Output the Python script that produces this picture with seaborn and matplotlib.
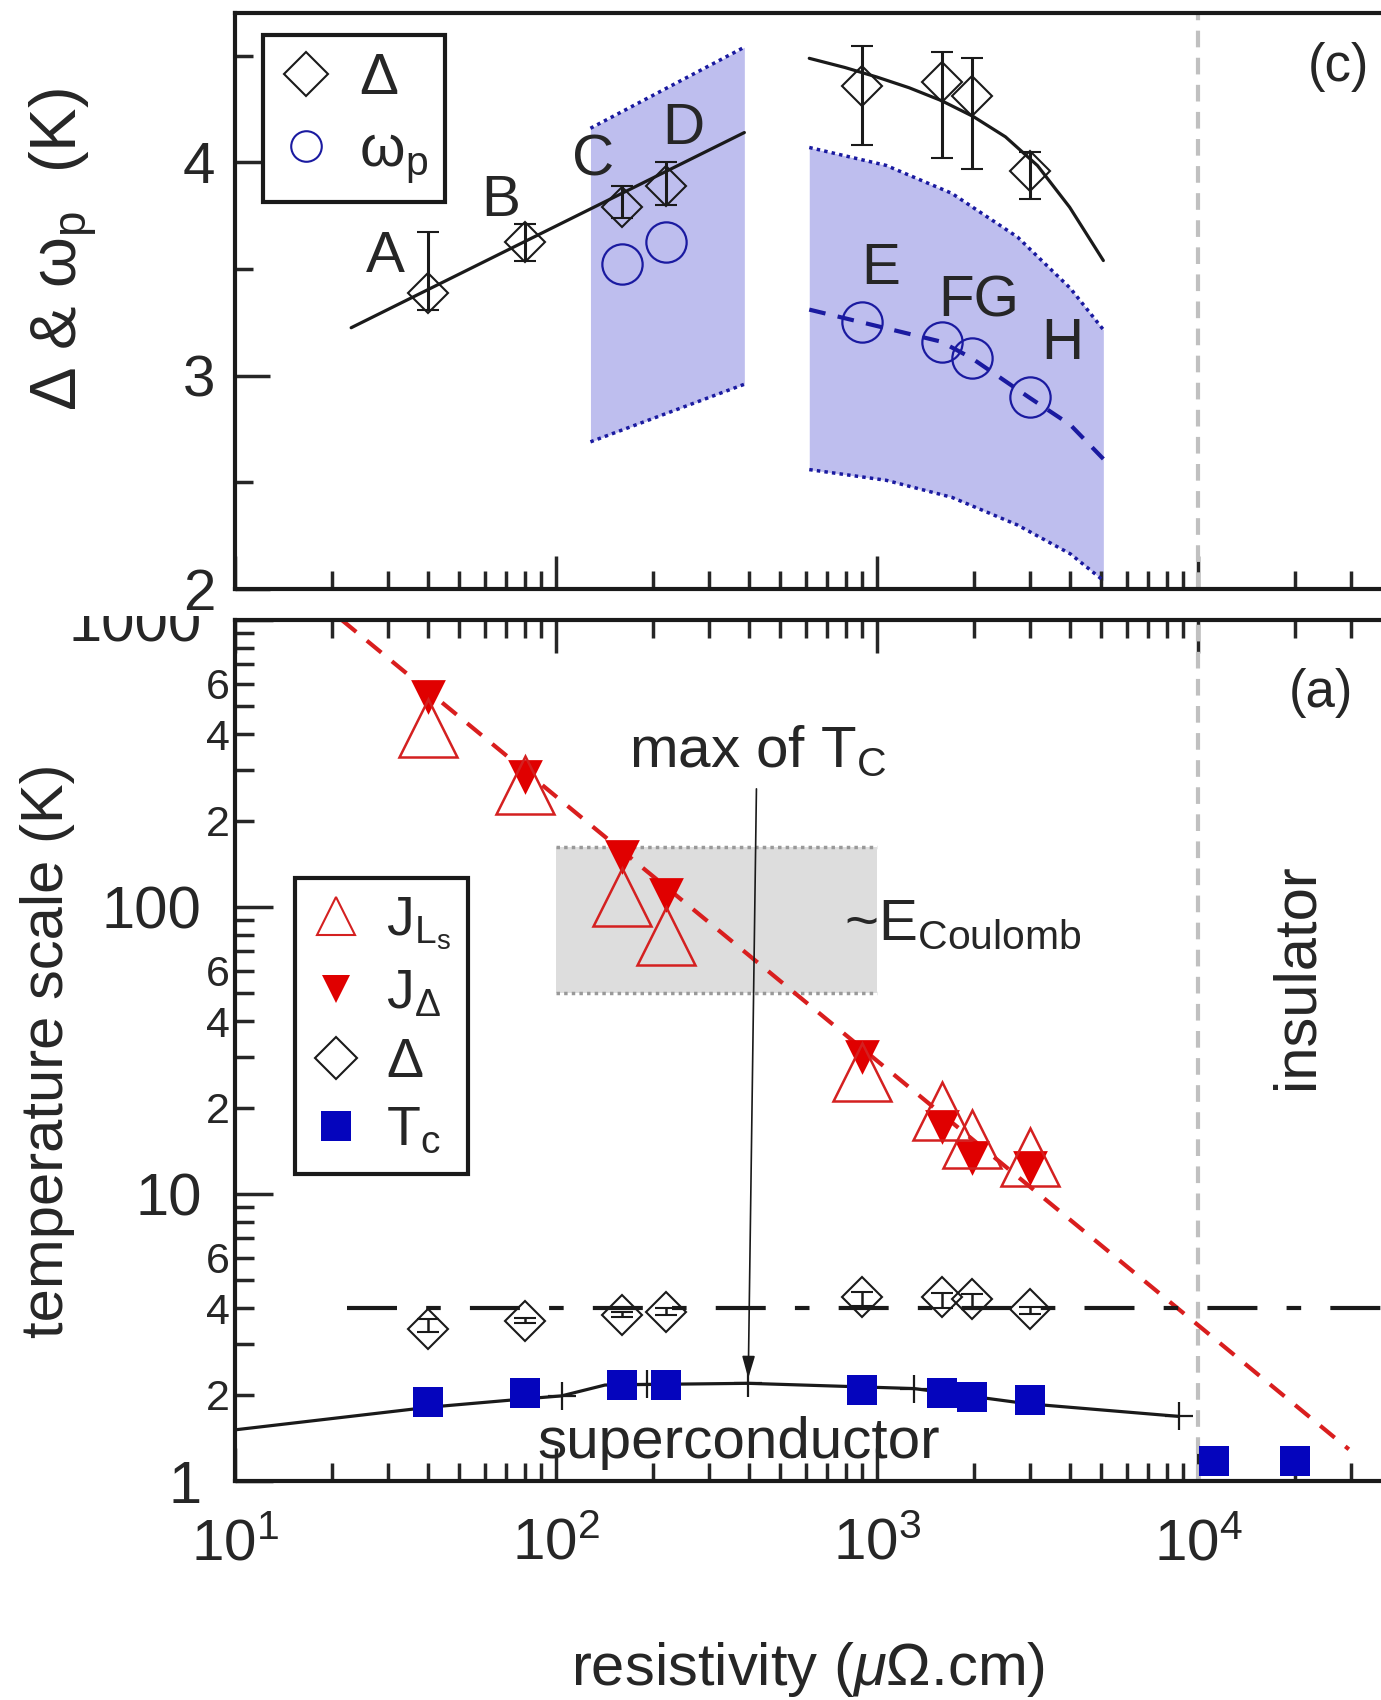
import numpy as np
import pandas as pd
import matplotlib
matplotlib.use("Agg")
import matplotlib.pyplot as plt
import seaborn as sns
from matplotlib.lines import Line2D
from matplotlib.patches import Rectangle
from matplotlib.ticker import FixedLocator, FixedFormatter

sns.set_theme(style="ticks")
plt.rcParams['font.family'] = ['Liberation Sans', 'DejaVu Sans']
plt.rcParams['mathtext.fontset'] = 'custom'
plt.rcParams['mathtext.rm'] = 'Liberation Sans'
plt.rcParams['mathtext.it'] = 'Liberation Sans:italic'
plt.rcParams['mathtext.bf'] = 'Liberation Sans:bold'
plt.rcParams['mathtext.default'] = 'regular'

# -------------------
# Data
# -------------------
samples = ['A', 'B', 'C', 'D', 'E', 'F', 'G', 'H']
rho = [40, 80, 160, 220, 895, 1590, 1980, 3000]          # resistivity (uOhm.cm)
gap = [3.39, 3.625, 3.79, 3.89, 4.36, 4.375, 4.31, 3.96]  # Delta (K)
gap_lo = [3.31, 3.54, 3.74, 3.80, 4.08, 4.02, 3.97, 3.83]
gap_hi = [3.675, 3.71, 3.89, 4.00, 4.545, 4.516, 4.49, 4.05]

wp_rho = [160, 220, 895, 1590, 1980, 3000]
wp = [3.526, 3.625, 3.253, 3.16, 3.085, 2.90]           # omega_p (K)

# fits in panel (c)
fit_left_rho = [23, 386]
fit_left_gap = [3.225, 4.14]
fit_right_rho = [615, 794, 1000, 1259, 1585, 1995, 2512, 3162, 3981, 5070]
fit_right_gap = [4.488, 4.445, 4.40, 4.35, 4.29, 4.215, 4.12, 3.985, 3.79, 3.54]
wp_fit_rho = [615, 898, 1581, 1960, 2965, 4000, 5070]
wp_fit = [3.31, 3.25, 3.16, 3.085, 2.90, 2.77, 2.61]

# shaded omega_p bands
band1_rho = [128, 386]
band1_hi = [4.16, 4.54]
band1_lo = [2.69, 2.96]
band2_rho = [615, 1067, 1710, 2740, 4000, 5070]
band2_hi = [4.07, 3.986, 3.855, 3.65, 3.41, 3.216]
band2_lo = [2.56, 2.51, 2.43, 2.30, 2.165, 2.04]

# panel (a)
J_Ls = [421, 266, 108, 79, 26.6, 19.5, 15.5, 13.5]
J_gap = [540, 284, 149, 110, 30.0, 17.1, 13.3, 12.3]
Tc = [1.88, 2.02, 2.16, 2.16, 2.07, 2.02, 1.96, 1.91]
Tc_ins_rho = [11200, 20000]
Tc_ins = [1.17, 1.17]

tc_curve_rho = [9.6, 40.6, 83, 104, 142, 192, 397, 1303, 2930, 8700]
tc_curve = [1.50, 1.81, 1.94, 1.98, 2.16, 2.17, 2.19, 2.10, 1.86, 1.68]
tc_plus_idx = [3, 5, 6, 7, 9]

J_fit_rho = [21.5, 29500]
J_fit = [1000, 1.29]
gap_level_rho = [22.3, 40000]
gap_level = [4, 4]

coulomb_rho = [100, 1000]
coulomb_lo, coulomb_hi = 50, 162
sc_insulator_boundary = 1e4

xmin, xmax = 10, 10 ** 4.57

RED = '#e00000'
RED_EDGE = '#d42020'
BLUE = '#0505bd'
BLUE_C = '#1a1aa0'
BAND = '#bebeee'

# -------------------
# Figure
# -------------------
fig = plt.figure(figsize=(13.81, 17.0), dpi=100)
ax_c = fig.add_axes([0.1702, 0.6535, 0.8298, 0.3388])
ax_a = fig.add_axes([0.1702, 0.1288, 0.8298, 0.5065])
ax_a.set_zorder(0)
ax_c.set_zorder(2)
# the top panel hides the upper part of the "1000" label
fig.add_artist(Rectangle((0, 1 - 616 / 1700), 0.1702, 616 / 1700, transform=fig.transFigure,
                         facecolor='white', edgecolor='none', zorder=1))

for ax in (ax_c, ax_a):
    ax.set_xscale('log')
    ax.set_xlim(xmin, xmax)
    for side in ('left', 'top', 'bottom'):
        ax.spines[side].set_linewidth(3)
        ax.spines[side].set_color('k')
    ax.spines['right'].set_visible(False)
    ax.axvline(sc_insulator_boundary, color='#c0c0c0', lw=3, ls=(0, (4, 2.5)), zorder=1)

# ---- panel (c) ----
ax_c.set_ylim(2, 4.70)
ax_c.fill_between(band1_rho, band1_lo, band1_hi, color=BAND, lw=0, zorder=0.5)
ax_c.fill_between(band2_rho, band2_lo, band2_hi, color=BAND, lw=0, zorder=0.5)
for xs, ys in [(band1_rho, band1_hi), (band1_rho, band1_lo), (band2_rho, band2_hi), (band2_rho, band2_lo)]:
    ax_c.plot(xs, ys, color=BLUE_C, lw=2.5, ls=(0, (1, 1.2)), zorder=1.5)

fits = pd.DataFrame({'rho': fit_left_rho, 'gap': fit_left_gap})
sns.lineplot(data=fits, x='rho', y='gap', ax=ax_c, color='k', lw=2.3, estimator=None, sort=False, zorder=2)
fits = pd.DataFrame({'rho': fit_right_rho, 'gap': fit_right_gap})
sns.lineplot(data=fits, x='rho', y='gap', ax=ax_c, color='k', lw=2.3, estimator=None, sort=False, zorder=2)
wpf = pd.DataFrame({'rho': wp_fit_rho, 'wp': wp_fit})
sns.lineplot(data=wpf, x='rho', y='wp', ax=ax_c, color=BLUE_C, lw=3, ls=(0, (4, 3)),
             estimator=None, sort=False, zorder=2)

gap_a = np.array(gap)
yerr = [gap_a - np.array(gap_lo), np.array(gap_hi) - gap_a]
ax_c.errorbar(rho, gap, yerr=yerr, fmt='D', ms=20, mfc='none', mec='k', mew=1.5,
              ecolor='k', elinewidth=2.2, capsize=8, capthick=2.2, zorder=3)
ax_c.plot(wp_rho, wp, 'o', ms=29, mfc='none', mec=BLUE_C, mew=1.6, zorder=3)

letter_pos = [(29.4, 3.555), (67.4, 3.82), (130, 4.01), (250, 4.155),
              (1029, 3.50), (2075, 3.35), (3785, 3.15)]
for lab, (x, y) in zip(['A', 'B', 'C', 'D', 'E', 'FG', 'H'], letter_pos):
    ax_c.text(x, y, lab, fontsize=42, ha='center', va='center', zorder=4)
ax_c.text(0.963, 0.906, '(c)', transform=ax_c.transAxes, fontsize=38, ha='center', va='center')

ax_c.yaxis.set_major_locator(FixedLocator([2, 3, 4]))
ax_c.yaxis.set_minor_locator(FixedLocator([2.5, 3.5, 4.5]))
ax_c.tick_params(axis='y', which='major', direction='in', length=25, width=2.5, labelsize=42, pad=14)
ax_c.tick_params(axis='y', which='minor', direction='in', length=13, width=2.5)
ax_c.tick_params(axis='x', which='major', direction='in', length=24, width=2.5, top=False, labelbottom=False)
ax_c.tick_params(axis='x', which='minor', direction='in', length=13, width=2.5, top=False, labelbottom=False)
ax_c.set_xlabel('')
ax_c.set_ylabel('Δ & ω$_p$  (K)', fontsize=47)
ax_c.yaxis.set_label_coords(-0.118, 0.59)

h_gap = Line2D([], [], marker='D', ls='none', mfc='none', mec='k', ms=22, mew=1.5)
h_wp = Line2D([], [], marker='o', ls='none', mfc='none', mec=BLUE_C, ms=22, mew=1.5)
leg = ax_c.legend([h_gap, h_wp], ['Δ', 'ω$_p$'], loc='upper left', bbox_to_anchor=(0.024, 0.962),
                  borderaxespad=0, fontsize=42, fancybox=False, edgecolor='k', framealpha=1,
                  handlelength=0.9, handletextpad=0.45, borderpad=0.3, labelspacing=0.3)
leg.get_frame().set_linewidth(3)

# ---- panel (a) ----
ax_a.set_yscale('log')
ax_a.set_ylim(1, 1000)

ax_a.fill_between(coulomb_rho, coulomb_lo, coulomb_hi, color='#dddddd', lw=0, zorder=0.5)
for yv in (coulomb_lo, coulomb_hi):
    ax_a.plot(coulomb_rho, [yv, yv], color='#999999', lw=2.5, ls=(0, (1, 1.2)), zorder=0.6)

jf = pd.DataFrame({'rho': J_fit_rho, 'J': J_fit})
sns.lineplot(data=jf, x='rho', y='J', ax=ax_a, color='#d91e1e', lw=3, ls=(0, (4.5, 3.3)),
             estimator=None, sort=False, zorder=2)
ax_a.plot(gap_level_rho, gap_level, color='k', lw=3, ls=(0, (12, 7, 3.5, 7)), zorder=2)

tcc = pd.DataFrame({'rho': tc_curve_rho, 'Tc': tc_curve})
sns.lineplot(data=tcc, x='rho', y='Tc', ax=ax_a, color='k', lw=2.3, estimator=None, sort=False, zorder=2)
ax_a.plot([tc_curve_rho[i] for i in tc_plus_idx], [tc_curve[i] for i in tc_plus_idx],
          '+', color='k', ms=20, mew=1.6, zorder=2)

ax_a.errorbar(rho, gap, yerr=yerr, fmt='D', ms=20, mfc='none', mec='k', mew=1.5,
              ecolor='k', elinewidth=1.8, capsize=8, capthick=1.8, zorder=3)

sq = pd.DataFrame({'rho': rho + Tc_ins_rho, 'Tc': Tc + Tc_ins})
sns.scatterplot(data=sq, x='rho', y='Tc', ax=ax_a, marker='s', s=21.6 ** 2, color=BLUE,
                linewidth=0, zorder=4, legend=False)
jd = pd.DataFrame({'rho': rho, 'J': J_gap})
sns.scatterplot(data=jd, x='rho', y='J', ax=ax_a, marker='v', s=25 ** 2, color=RED,
                linewidth=0, zorder=4, legend=False)
ax_a.plot(rho, J_Ls, '^', ms=42, mfc='none', mec=RED_EDGE, mew=1.8, zorder=5)

ax_a.annotate('', xy=(397, 2.28), xytext=(421, 258),
              arrowprops=dict(arrowstyle='-|>,head_length=0.45,head_width=0.13', color='k',
                              lw=1.2, mutation_scale=30, shrinkA=0, shrinkB=0), zorder=3)
ax_a.text(424, 308, 'max of T$_C$', fontsize=42, ha='center', va='baseline')
ax_a.text(790, 76.7, '~E$_{Coulomb}$', fontsize=42, ha='left', va='baseline')
ax_a.text(370, 1.2, 'superconductor', fontsize=42, ha='center', va='baseline')
ax_a.text(20300, 57.5, 'insulator', fontsize=43, rotation=90, ha='center', va='center')
ax_a.text(0.948, 0.915, '(a)', transform=ax_a.transAxes, fontsize=38, ha='center', va='center')

ax_a.xaxis.set_major_locator(FixedLocator([10, 100, 1000, 10000]))
ax_a.xaxis.set_major_formatter(FixedFormatter(['$10^{1}$', '$10^{2}$', '$10^{3}$', '$10^{4}$']))
ax_a.yaxis.set_major_locator(FixedLocator([1, 10, 100, 1000]))
ax_a.yaxis.set_major_formatter(FixedFormatter(['1', '10', '100', '1000']))
minor_y = [m * 10 ** d for d in range(3) for m in range(2, 10)]
ax_a.yaxis.set_minor_locator(FixedLocator(minor_y))
ax_a.yaxis.set_minor_formatter(FixedFormatter([str(m) if m in (2, 4, 6) else ''
                                               for d in range(3) for m in range(2, 10)]))
ax_a.tick_params(axis='y', which='major', direction='in', length=27, width=2.5, labelsize=43, pad=24)
ax_a.tick_params(axis='y', which='minor', direction='in', length=14, width=2.5, labelsize=31, pad=4)
ax_a.tick_params(axis='x', which='major', direction='in', length=24, width=2.5, top=True,
                 labelsize=42, pad=26)
ax_a.tick_params(axis='x', which='minor', direction='in', length=13, width=2.5, top=True)
ax_a.set_xlabel('resistivity ($\\mathit{\\mu}$Ω.cm)', fontsize=43)
ax_a.xaxis.set_label_coords(0.5, -0.185)
ax_a.set_ylabel('temperature scale (K)', fontsize=43)
ax_a.yaxis.set_label_coords(-0.14, 0.5)

handles = [Line2D([], [], marker='^', ls='none', mfc='none', mec=RED_EDGE, ms=27, mew=1.5),
           Line2D([], [], marker='v', ls='none', mfc=RED, mec=RED, ms=20, mew=0),
           Line2D([], [], marker='D', ls='none', mfc='none', mec='k', ms=21, mew=1.5),
           Line2D([], [], marker='s', ls='none', mfc=BLUE, mec=BLUE, ms=22, mew=0)]
leg = ax_a.legend(handles, ['J$_{L_s}$', 'J$_Δ$', 'Δ', 'T$_c$'], loc='upper left',
                  bbox_to_anchor=(0.052, 0.700), borderaxespad=0, fontsize=40, fancybox=False,
                  edgecolor='k', framealpha=1, handlelength=0.9, handletextpad=0.45,
                  borderpad=0.3, labelspacing=0.3)
leg.get_frame().set_linewidth(3)

fig.savefig('out.png', dpi=100)
